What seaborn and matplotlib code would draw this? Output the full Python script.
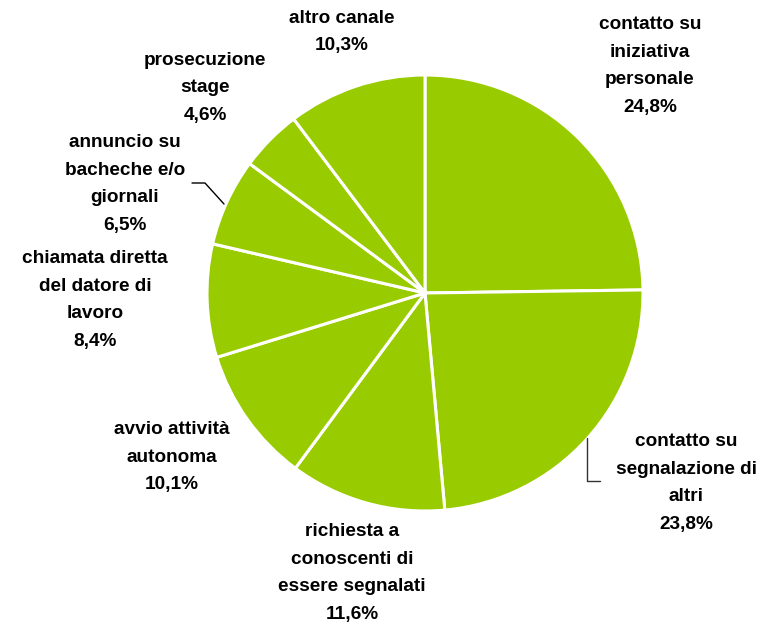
import matplotlib
matplotlib.use("Agg")
import matplotlib.pyplot as plt
import seaborn as sns

sns.set_theme(style="white")
plt.rcParams['font.family'] = ['Liberation Sans', 'DejaVu Sans']

categories = [
    "contatto su\niniziativa\npersonale",
    "contatto su\nsegnalazione di\naltri",
    "richiesta a\nconoscenti di\nessere segnalati",
    "avvio attività\nautonoma",
    "chiamata diretta\ndel datore di\nlavoro",
    "annuncio su\nbacheche e/o\ngiornali",
    "prosecuzione\nstage",
    "altro canale",
]
values = [24.8, 23.8, 11.6, 10.1, 8.4, 6.5, 4.6, 10.3]
value_labels = ["24,8%", "23,8%", "11,6%", "10,1%", "8,4%", "6,5%", "4,6%", "10,3%"]

W, H = 776, 629
fig = plt.figure(figsize=(W / 100, H / 100), dpi=100)
ax = fig.add_axes([0, 0, 1, 1])

color = "#99CC00"
ax.pie(values, colors=[color] * len(values), startangle=90, counterclock=False,
       center=(425, H - 293), radius=218, frame=True,
       wedgeprops=dict(edgecolor="white", linewidth=2.2))
ax.set_xlim(0, W)
ax.set_ylim(0, H)
ax.set_aspect("equal")
ax.axis("off")

label_pos = [(650, 66), (686, 483), (352, 573), (172, 457), (95, 300),
             (125, 184), (205, 88), (342, 32)]
for cat, vl, (x, y) in zip(categories, value_labels, label_pos):
    ax.text(x, H - y, f"{cat}\n{vl}", ha="center", va="center",
            fontsize=13.7, fontweight="bold", color="black", linespacing=1.8)

ax.plot([192, 205, 224], [H - 183, H - 183, H - 204], color="black", lw=1)
ax.plot([587, 587, 600], [H - 438, H - 481, H - 481], color="#333333", lw=1)

fig.savefig("out.png", dpi=100, facecolor="white")
